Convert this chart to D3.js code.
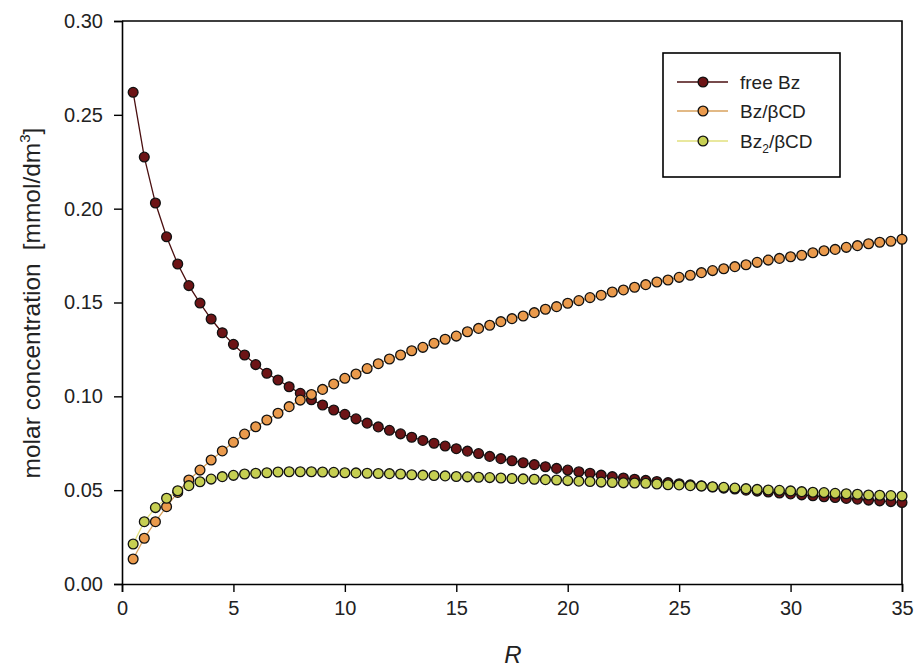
<!DOCTYPE html>
<html>
<head>
<meta charset="utf-8">
<script src="https://cdn.jsdelivr.net/npm/d3@7"></script>
<style>
  html, body { margin: 0; padding: 0; background: #fff; }
  svg { display: block; }
</style>
</head>
<body>
<svg id="chart" width="916" height="670"></svg>
<script>
// ---- data ----
const R = [0.5,1,1.5,2,2.5,3,3.5,4,4.5,5,5.5,6,6.5,7,7.5,8,8.5,9,9.5,10,
  10.5,11,11.5,12,12.5,13,13.5,14,14.5,15,15.5,16,16.5,17,17.5,18,18.5,19,19.5,20,
  20.5,21,21.5,22,22.5,23,23.5,24,24.5,25,25.5,26,26.5,27,27.5,28,28.5,29,29.5,30,
  30.5,31,31.5,32,32.5,33,33.5,34,34.5,35];

const freeBz = [0.262,0.2275,0.203,0.185,0.1705,0.159,0.1497,0.1412,0.1339,0.1277,
  0.1220,0.1169,0.1123,0.1087,0.1051,0.1016,0.0982,0.0954,0.0927,0.0904,
  0.0880,0.0857,0.0837,0.0819,0.0800,0.0782,0.0765,0.0750,0.0735,0.0721,
  0.0708,0.0695,0.0680,0.0668,0.0657,0.0646,0.0636,0.0625,0.0616,0.0607,
  0.0598,0.0590,0.0580,0.0572,0.0565,0.0558,0.0552,0.0546,0.0540,0.0534,
  0.0528,0.0523,0.0517,0.0511,0.0506,0.0500,0.0495,0.0490,0.0485,0.0480,
  0.0475,0.0470,0.0465,0.0461,0.0456,0.0452,0.0447,0.0443,0.0439,0.0434];

const bzCD = [0.0133,0.0244,0.0332,0.0412,0.0488,0.0554,0.0607,0.0661,0.0709,0.0755,
  0.0799,0.0838,0.0874,0.0910,0.0945,0.0980,0.1010,0.1037,0.1066,0.1096,
  0.1119,0.1148,0.1174,0.1199,0.1220,0.1243,0.1261,0.1283,0.1304,0.1321,
  0.1344,0.1362,0.1379,0.1398,0.1414,0.1428,0.1446,0.1464,0.1478,0.1496,
  0.1510,0.1526,0.1539,0.1556,0.1567,0.1581,0.1595,0.1609,0.1620,0.1634,
  0.1645,0.1659,0.1670,0.1680,0.1691,0.1701,0.1714,0.1726,0.1735,0.1744,
  0.1752,0.1765,0.1776,0.1783,0.1794,0.1803,0.1813,0.1821,0.1826,0.1837];

const bz2CD = [0.0213,0.0332,0.0407,0.0457,0.0497,0.0524,0.0545,0.0559,0.0572,0.0579,
  0.0586,0.0590,0.0593,0.0597,0.0598,0.0598,0.0598,0.0597,0.0595,0.0593,
  0.0592,0.0590,0.0589,0.0588,0.0586,0.0582,0.0580,0.0578,0.0576,0.0573,
  0.0571,0.0569,0.0567,0.0565,0.0562,0.0560,0.0558,0.0556,0.0554,0.0551,
  0.0548,0.0546,0.0543,0.0541,0.0539,0.0538,0.0537,0.0533,0.0529,0.0528,
  0.0524,0.0522,0.0518,0.0515,0.0511,0.0508,0.0504,0.0501,0.0499,0.0496,
  0.0492,0.0489,0.0487,0.0483,0.0481,0.0478,0.0474,0.0473,0.0471,0.0469];

const xTicks = [0,5,10,15,20,25,30,35];
const yTicks = [0,0.05,0.10,0.15,0.20,0.25,0.30];

const seriesNames = ["free Bz", "Bz/βCD", "Bz2/βCD"];
const seriesValues = [freeBz, bzCD, bz2CD];
const lineColors = ["#4a0f10", "#d9a25e", "#e2e07e"];
const fillColors = ["#6d1416", "#ea9a4c", "#c6cf52"];

// ---- layout ----
const FONT = "'Liberation Sans', Arial, Helvetica, sans-serif";
const svg = d3.select("#chart");
const pL = 122, pR = 902, pT = 21, pB = 584;

const x = d3.scaleLinear().domain([0, 35]).range([pL, pR]);
const y = d3.scaleLinear().domain([0, 0.30]).range([pB, pT]);

// frame (top and right)
svg.append("path")
  .attr("d", `M${pL},${pT}H${pR}V${pB}`)
  .attr("fill", "none").attr("stroke", "#000").attr("stroke-width", 1.6);

// axes
const xAxis = svg.append("g")
  .attr("transform", `translate(0,${pB})`)
  .call(d3.axisBottom(x).tickValues(xTicks).tickSize(8).tickPadding(9).tickFormat(d3.format("d")));
const yAxis = svg.append("g")
  .attr("transform", `translate(${pL},0)`)
  .call(d3.axisLeft(y).tickValues(yTicks).tickSize(8).tickPadding(11).tickFormat(d3.format(".2f")));

[xAxis, yAxis].forEach(g => {
  g.select(".domain").attr("stroke", "#000").attr("stroke-width", 1.6);
  g.selectAll(".tick line").attr("stroke", "#000").attr("stroke-width", 1.4);
  g.selectAll(".tick text").attr("fill", "#222").style("font-family", FONT).style("font-size", "20px");
});

// series
const line = d3.line().x(d => x(d[0])).y(d => y(d[1]));
seriesValues.forEach((vals, i) => {
  const pts = R.map((r, j) => [r, vals[j]]);
  const g = svg.append("g");
  g.append("path").datum(pts).attr("d", line)
    .attr("fill", "none").attr("stroke", lineColors[i]).attr("stroke-width", 1.3);
  g.selectAll("circle").data(pts).join("circle")
    .attr("cx", d => x(d[0])).attr("cy", d => y(d[1])).attr("r", 4.9)
    .attr("fill", fillColors[i]).attr("stroke", "#111").attr("stroke-width", 1.3);
});

// axis titles
svg.append("text")
  .attr("x", 513).attr("y", 663)
  .attr("text-anchor", "middle")
  .style("font-family", FONT).style("font-size", "24px").style("font-style", "italic")
  .attr("fill", "#222").text("R");

const yt = svg.append("text")
  .attr("transform", "translate(40,303) rotate(-90)")
  .attr("text-anchor", "middle")
  .style("font-family", FONT).style("font-size", "24.5px").attr("fill", "#222");
yt.append("tspan").text("molar concentration");
yt.append("tspan").attr("dx", 13).text("[mmol/dm");
yt.append("tspan").attr("dy", -10).style("font-size", "15px").text("3");
yt.append("tspan").attr("dy", 10).text("]");

// legend
const lg = svg.append("g");
lg.append("rect").attr("x", 663).attr("y", 53).attr("width", 177).attr("height", 124)
  .attr("fill", "#fff").attr("stroke", "#000").attr("stroke-width", 1.6);
const legY = [82, 111, 141];
seriesNames.forEach((name, i) => {
  lg.append("line").attr("x1", 677).attr("x2", 728).attr("y1", legY[i]).attr("y2", legY[i])
    .attr("stroke", lineColors[i]).attr("stroke-width", 1.6);
  lg.append("circle").attr("cx", 703).attr("cy", legY[i]).attr("r", 4.9)
    .attr("fill", fillColors[i]).attr("stroke", "#111").attr("stroke-width", 1.3);
  const t = lg.append("text").attr("x", 740).attr("y", legY[i] + 7)
    .style("font-family", FONT).style("font-size", "19px").attr("fill", "#222");
  if (name === "Bz2/βCD") {
    t.append("tspan").text("Bz");
    t.append("tspan").attr("dy", 5).style("font-size", "12px").text("2");
    t.append("tspan").attr("dy", -5).text("/βCD");
  } else {
    t.text(name);
  }
});
</script>
</body>
</html>
